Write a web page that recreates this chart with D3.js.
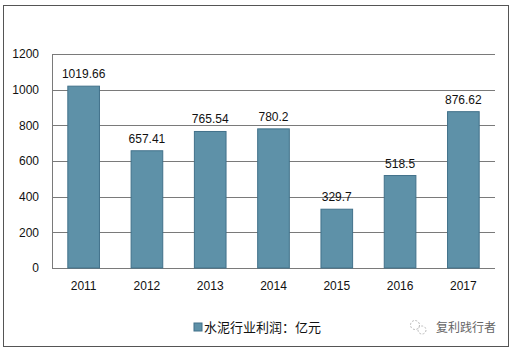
<!DOCTYPE html>
<html>
<head>
<meta charset="utf-8">
<script src="https://cdn.jsdelivr.net/npm/d3@7"></script>
<style>
  body { margin: 0; background: #fff; }
  svg text { font-family: "Liberation Sans", "Noto Sans CJK SC", sans-serif; }
</style>
</head>
<body>
<div id="chart"></div>
<script>
// data
const years = ["2011", "2012", "2013", "2014", "2015", "2016", "2017"];
const profits = [1019.66, 657.41, 765.54, 780.2, 329.7, 518.5, 876.62];
const yTicks = [0, 200, 400, 600, 800, 1000, 1200];
const seriesName = "水泥行业利润：亿元";
const watermark = "复利践行者";

const W = 512, H = 352;
const margin = { top: 54, right: 17, bottom: 84, left: 52 };
const width = W - margin.left - margin.right,
    height = H - margin.top - margin.bottom;

const svg = d3.select("#chart").append("svg")
    .attr("width", W)
    .attr("height", H);

// outer frame
svg.append("rect")
    .attr("x", 3.5).attr("y", 5.5)
    .attr("width", 505).attr("height", 341)
    .style("fill", "#fff")
    .style("stroke", "#555")
    .style("stroke-width", 1);

const g = svg.append("g")
    .attr("transform", `translate(${margin.left},${margin.top})`);

const x = d3.scaleBand().domain(years).range([0, width]).paddingInner(0.5).paddingOuter(0.25);
const y = d3.scaleLinear().domain([0, 1200]).range([height, 0]);

// gridlines
g.selectAll(".grid")
    .data(yTicks)
    .enter().append("line")
    .attr("x1", 0).attr("x2", width)
    .attr("y1", d => Math.round(y(d)) + 0.5)
    .attr("y2", d => Math.round(y(d)) + 0.5)
    .style("stroke", "#7a7a7a")
    .style("stroke-width", 1);

// y axis line
g.append("line")
    .attr("x1", 0.5).attr("x2", 0.5)
    .attr("y1", 0).attr("y2", height)
    .style("stroke", "#7a7a7a");

// y tick labels
g.selectAll(".ylab")
    .data(yTicks)
    .enter().append("text")
    .attr("x", -13)
    .attr("y", d => y(d))
    .attr("dy", "0.35em")
    .style("text-anchor", "end")
    .style("font-size", "12px")
    .style("fill", "#111")
    .text(d => d);

// bars
g.selectAll(".bar")
    .data(profits)
    .enter().append("rect")
    .attr("class", "bar")
    .attr("x", (d, i) => x(years[i]))
    .attr("y", d => y(d))
    .attr("width", x.bandwidth())
    .attr("height", d => height - y(d))
    .style("fill", "#5e91a8")
    .style("stroke", "#41718a")
    .style("stroke-width", 1);

// value labels
g.selectAll(".val")
    .data(profits)
    .enter().append("text")
    .attr("x", (d, i) => x(years[i]) + x.bandwidth() / 2)
    .attr("y", d => y(d) - 8)
    .style("text-anchor", "middle")
    .style("font-size", "12px")
    .style("fill", "#111")
    .text(d => d);

// x labels
g.selectAll(".xlab")
    .data(years)
    .enter().append("text")
    .attr("x", d => x(d) + x.bandwidth() / 2)
    .attr("y", height + 22)
    .style("text-anchor", "middle")
    .style("font-size", "12px")
    .style("fill", "#111")
    .text(d => d);

// legend
svg.append("rect")
    .attr("x", 194).attr("y", 323)
    .attr("width", 8).attr("height", 8)
    .style("fill", "#5e91a8")
    .style("stroke", "#41718a");

svg.append("text")
    .attr("x", 204).attr("y", 332)
    .style("font-size", "13px")
    .style("fill", "#111")
    .text(seriesName);

// watermark
const wm = svg.append("g").attr("transform", "translate(418,327)");
wm.append("circle").attr("cx", -3).attr("cy", -2).attr("r", 4.5)
    .style("fill", "none").style("stroke", "#bbb").style("stroke-dasharray", "2,1.5");
wm.append("circle").attr("cx", 4).attr("cy", 3).attr("r", 4)
    .style("fill", "none").style("stroke", "#bbb").style("stroke-dasharray", "2,1.5");

svg.append("text")
    .attr("x", 436).attr("y", 332)
    .style("font-size", "12px")
    .style("fill", "#666")
    .text(watermark);
</script>
</body>
</html>
